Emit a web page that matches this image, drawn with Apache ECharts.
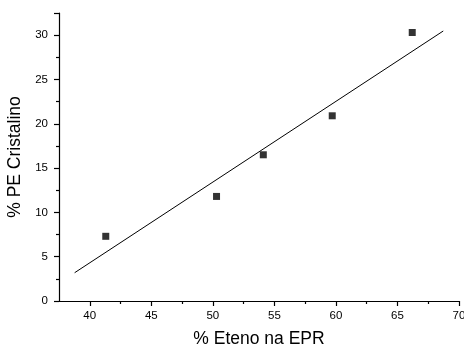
<!DOCTYPE html>
<html>
<head>
<meta charset="utf-8">
<script src="https://cdn.jsdelivr.net/npm/echarts@6/dist/echarts.min.js"></script>
<style>
  html, body { margin: 0; padding: 0; background: #fff; }
  #chart { width: 464px; height: 347px; }
</style>
</head>
<body>
<div id="chart"></div>
<script>
// pontos medidos
const etenoX = [41.3, 50.3, 54.1, 59.7, 66.2];
const peY = [7.3, 11.8, 16.5, 20.9, 30.3];
// reta de ajuste (extremos)
const fitX = [38.77, 68.72];
const fitY = [3.19, 30.47];
// marcas dos eixos
const xMajorTicks = [40, 45, 50, 55, 60, 65, 70];
const xMinorTicks = [42.5, 47.5, 52.5, 57.5, 62.5, 67.5];
const yLabels = [0, 5, 10, 15, 20, 25, 30];

const myChart = echarts.init(document.getElementById('chart'));

const font = 'Liberation Sans, Arial, sans-serif';
const black = { color: '#000', width: 1.2 };

myChart.setOption({
  animation: false,
  grid: { left: 59, right: 5, top: 13, bottom: 46, containLabel: false, outerBoundsMode: 'none' },
  xAxis: [
    {
      type: 'value',
      min: 37.5,
      max: 70,
      interval: 2.5,
      name: '% Eteno na EPR',
      nameLocation: 'middle',
      nameGap: 29,
      nameTextStyle: { color: '#000', fontSize: 17.5, fontFamily: font },
      axisLine: { show: true, onZero: false, lineStyle: black },
      axisTick: { show: true, length: 5, lineStyle: black, customValues: xMajorTicks },
      splitLine: { show: false },
      axisLabel: { color: '#000', fontSize: 11.5, fontFamily: font, margin: 9, customValues: xMajorTicks },
    },
    {
      // só as marcas menores
      type: 'value',
      position: 'bottom',
      min: 37.5,
      max: 70,
      interval: 2.5,
      axisLine: { show: false },
      axisTick: { show: true, length: 3, lineStyle: black, customValues: xMinorTicks },
      axisLabel: { show: false },
      splitLine: { show: false },
    },
  ],
  yAxis: {
    type: 'value',
    min: 0,
    max: 32.5,
    interval: 5,
    name: '% PE Cristalino',
    nameLocation: 'middle',
    nameGap: 32,
    nameTextStyle: { color: '#000', fontSize: 17.5, fontFamily: font },
    axisLine: { show: true, onZero: false, lineStyle: black },
    axisTick: { show: true, length: 5, lineStyle: black },
    minorTick: { show: true, splitNumber: 2, length: 3, lineStyle: black },
    splitLine: { show: false },
    axisLabel: { color: '#000', fontSize: 11.5, fontFamily: font, margin: 11, customValues: yLabels },
  },
  series: [
    {
      type: 'scatter',
      symbol: 'rect',
      symbolSize: 7,
      itemStyle: { color: '#000' },
      data: etenoX.map((x, i) => [x, peY[i]]),
    },
    {
      type: 'line',
      showSymbol: false,
      lineStyle: { color: '#000', width: 1 },
      data: fitX.map((x, i) => [x, fitY[i]]),
    },
  ],
});
</script>
</body>
</html>
